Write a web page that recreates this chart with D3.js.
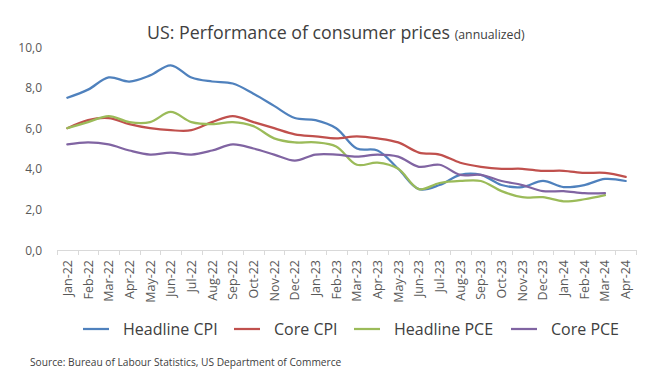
<!DOCTYPE html>
<html><head><meta charset="utf-8">
<script src="https://cdn.jsdelivr.net/npm/d3@7"></script>
<style>body{margin:0;background:#fff}svg{display:block}text{font-family:"Open Sans","Noto Sans",sans-serif}</style>
</head><body><svg id="c" width="656" height="383"></svg>
<script>
const categories = ["Jan-22","Feb-22","Mar-22","Apr-22","May-22","Jun-22","Jul-22","Aug-22","Sep-22","Oct-22","Nov-22","Dec-22","Jan-23","Feb-23","Mar-23","Apr-23","May-23","Jun-23","Jul-23","Aug-23","Sep-23","Oct-23","Nov-23","Dec-23","Jan-24","Feb-24","Mar-24","Apr-24"];
const headlineCPI = [7.5,7.9,8.5,8.3,8.6,9.1,8.5,8.3,8.2,7.7,7.1,6.5,6.4,6.0,5.0,4.9,4.0,3.0,3.2,3.7,3.7,3.2,3.1,3.4,3.1,3.2,3.5,3.4];
const coreCPI = [6.0,6.4,6.5,6.2,6.0,5.9,5.9,6.3,6.6,6.3,6.0,5.7,5.6,5.5,5.6,5.5,5.3,4.8,4.7,4.3,4.1,4.0,4.0,3.9,3.9,3.8,3.8,3.6];
const headlinePCE = [6.0,6.3,6.6,6.3,6.3,6.8,6.3,6.2,6.3,6.1,5.5,5.3,5.3,5.1,4.2,4.3,4.0,3.0,3.3,3.4,3.4,2.9,2.6,2.6,2.4,2.5,2.7];
const corePCE = [5.2,5.3,5.2,4.9,4.7,4.8,4.7,4.9,5.2,5.0,4.7,4.4,4.7,4.7,4.6,4.7,4.6,4.1,4.2,3.7,3.7,3.4,3.2,2.9,2.9,2.8,2.8];
const yTicks = [0,2,4,6,8,10];
const seriesNames = ["Headline CPI","Core CPI","Headline PCE","Core PCE"];
const seriesColors = ["#4F81BD","#C0504D","#9BBB59","#8064A2"];
const seriesData = [headlineCPI, coreCPI, headlinePCE, corePCE];

const svg = d3.select("#c");
const x = d3.scaleBand().domain(categories).range([57,636]);
const y = d3.scaleLinear().domain([0,10]).range([250,47]);

// title
const t = svg.append("text").attr("x",147).attr("y",39).attr("fill","#404040");
t.append("tspan").attr("font-size",17.8).text("US: Performance of consumer prices ");
t.append("tspan").attr("font-size",12.3).text("(annualized)");

// y axis labels
yTicks.forEach(v=>{
  svg.append("text").attr("x",42).attr("y",y(v)+4.5).attr("text-anchor","end")
    .attr("font-size",12).attr("fill","#595959").text(d3.format(".1f")(v).replace(".",","));
});

// x axis
const xa = svg.append("g");
xa.append("line").attr("x1",57).attr("x2",636).attr("y1",250.5).attr("y2",250.5).attr("stroke","#d9d9d9");
categories.forEach((c,i)=>{
  const bx = Math.round(x(c))+0.5;
  xa.append("line").attr("x1",bx).attr("x2",bx).attr("y1",250).attr("y2",255).attr("stroke","#d9d9d9");
});
xa.append("line").attr("x1",636.5).attr("x2",636.5).attr("y1",250).attr("y2",255).attr("stroke","#d9d9d9");
categories.forEach(c=>{
  const cx = x(c)+x.bandwidth()/2;
  xa.append("text").attr("transform",`translate(${cx+4.5},260) rotate(-90)`).attr("text-anchor","end")
    .attr("font-size",12.5).attr("fill","#595959").text(c);
});

// lines
const line = d3.line().x((d,i)=>x(categories[i])+x.bandwidth()/2).y(d=>y(d)).curve(d3.curveCatmullRom.alpha(0.5));
seriesData.forEach((s,k)=>{
  svg.append("path").attr("d",line(s)).attr("fill","none").attr("stroke",seriesColors[k])
    .attr("stroke-width",2.25).attr("stroke-linejoin","round").attr("stroke-linecap","round");
});

// legend
const legX = [83,234,354,511];
seriesNames.forEach((n,k)=>{
  svg.append("line").attr("x1",legX[k]).attr("x2",legX[k]+26).attr("y1",329).attr("y2",329)
    .attr("stroke",seriesColors[k]).attr("stroke-width",2.25);
  svg.append("text").attr("x",legX[k]+40).attr("y",335).attr("font-size",16).attr("fill","#404040").text(n);
});

svg.append("text").attr("x",30).attr("y",366).attr("font-size",10.2).attr("fill","#404040")
  .text("Source: Bureau of Labour Statistics, US Department of Commerce");
</script></body></html>
